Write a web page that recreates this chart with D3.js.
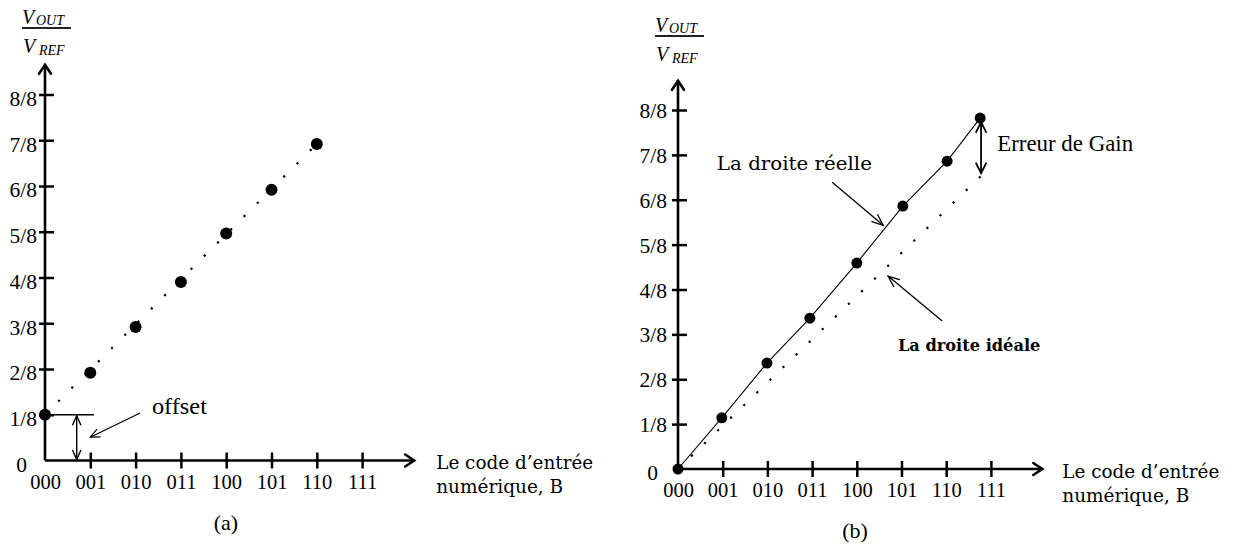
<!DOCTYPE html>
<html><head><meta charset="utf-8">
<script src="https://cdn.jsdelivr.net/npm/d3@7"></script>
<style>html,body{margin:0;padding:0;background:#fff;}svg{display:block;}</style>
</head><body>
<script>
// ---- data ----
const codes = ["000","001","010","011","100","101","110","111"];
const yTickLabels = ["0","1/8","2/8","3/8","4/8","5/8","6/8","7/8","8/8"];
// panel (a): offset error (values in eighths of V_REF)
const offsetCodes = [0,1,2,3,4,5,6];
const offsetVals  = [1,1.92,2.92,3.9,4.96,5.92,6.92];
// panel (b): gain error
const gainCodes = [0,0.98,1.99,2.95,4.0,5.03,6.02,6.76];
const gainVals  = [0,1.14,2.36,3.36,4.59,5.86,6.86,7.82];
const idealCodes = [0,6.8];
const idealVals  = [0,6.55];
const xTitle = ["Le code d\u2019entr\u00e9e","num\u00e9rique, B"];

const svg = d3.select("body").append("svg").attr("width",1234).attr("height",544);
svg.append("rect").attr("width",1234).attr("height",544).attr("fill","#fff");
const serif = "'Liberation Serif','Times New Roman',serif";
const slab = "'DejaVu Serif',serif";

function chevron(g, tx, ty, ang, len, half, sw){
  const c=Math.cos(ang), s=Math.sin(ang);
  const p1=[tx-len*c + half*s, ty-len*s - half*c];
  const p2=[tx-len*c - half*s, ty-len*s + half*c];
  g.append("path").attr("d",`M${p1[0]},${p1[1]}L${tx},${ty}L${p2[0]},${p2[1]}`)
   .attr("fill","none").attr("stroke","#000").attr("stroke-width",sw)
   .attr("stroke-linejoin","miter").attr("stroke-linecap","round");
}
function arrowLine(g,x1,y1,x2,y2,sw,len,half){
  g.append("line").attr("x1",x1).attr("y1",y1).attr("x2",x2).attr("y2",y2)
   .attr("stroke","#000").attr("stroke-width",sw);
  chevron(g,x2,y2,Math.atan2(y2-y1,x2-x1),len,half,sw);
}
function label(g,xx,yy,txt,fam,fs,len,weight){
  const t=g.append("text").attr("x",xx).attr("y",yy).attr("font-family",fam).attr("font-size",fs)
    .attr("fill","#000").text(txt);
  if(weight) t.attr("font-weight",weight);
  if(len) t.attr("textLength",len).attr("lengthAdjust","spacingAndGlyphs");
  return t;
}

function panel(cfg){
  const g = svg.append("g");
  const x = d3.scaleLinear([0,8],cfg.xr);
  const y = d3.scaleLinear([0,8],cfg.yr);
  const x0=x(0), y0=y(0);
  // x axis
  const xa = g.append("g").attr("transform",`translate(0,${y0})`)
    .call(d3.axisBottom(x).tickValues(d3.range(8)).tickFormat(i=>codes[i]).tickSizeInner(8).tickSizeOuter(0).tickPadding(0));
  xa.select(".domain").remove();
  xa.selectAll(".tick line").attr("y1",-8).attr("y2",8).attr("stroke-width",2.5);
  xa.selectAll(".tick").filter(d=>d===0).select("line").remove();
  xa.selectAll(".tick text").attr("y",21).attr("dy","0.35em")
    .attr("font-family",serif).attr("font-size",20.5).attr("fill","#000");
  // y axis
  const ya = g.append("g").attr("transform",`translate(${x0},0)`)
    .call(d3.axisLeft(y).tickValues(d3.range(9)).tickFormat(k=>yTickLabels[k]).tickSizeInner(6).tickSizeOuter(0).tickPadding(0));
  ya.select(".domain").remove();
  ya.selectAll(".tick line").attr("x1",-6).attr("x2",9).attr("stroke-width",2.5);
  ya.selectAll(".tick").filter(d=>d===0).select("line").remove();
  ya.selectAll(".tick text").attr("x",-cfg.labGap).attr("dy",cfg.labDy)
    .attr("font-family",serif).attr("font-size",21.5).attr("fill","#000");
  ya.selectAll(".tick text").filter(d=>d===0).attr("x",-cfg.zeroGap).attr("dy","0.5em");
  // axis lines with arrows
  const xEnd = x(8.15), yEnd = y(8.65);
  g.append("line").attr("x1",x0).attr("y1",y0).attr("x2",xEnd).attr("y2",y0).attr("stroke","#000").attr("stroke-width",2.6);
  g.append("line").attr("x1",x0).attr("y1",y0).attr("x2",x0).attr("y2",yEnd).attr("stroke","#000").attr("stroke-width",2.6);
  chevron(g,xEnd,y0,0,9,6,2.6);
  chevron(g,x0,yEnd,-Math.PI/2,9,6,2.6);
  // axis title (x)
  label(g,xEnd+cfg.titleGap,y0+8.5,xTitle[0],slab,18.5,157);
  label(g,xEnd+cfg.titleGap,y0+32.5,xTitle[1],slab,18.5,127);
  // y title V_OUT / V_REF
  const fy = cfg.fracY, fx = x0;
  g.append("line").attr("x1",fx-23).attr("x2",fx+26).attr("y1",fy).attr("y2",fy).attr("stroke","#222").attr("stroke-width",1.8);
  const it = (xx,yy,s,fs)=>g.append("text").attr("x",xx).attr("y",yy).attr("font-family",serif)
      .attr("font-style","italic").attr("font-size",fs).attr("fill","#000").text(s);
  it(fx-23,fy-4,"V",20); it(fx-9,fy-3,"OUT",14);
  it(fx-22,fy+25,"V",20); it(fx-6,fy+27,"REF",14);
  // caption
  g.append("text").attr("x",cfg.capX).attr("y",y0+69).attr("text-anchor","middle")
    .attr("font-family",serif).attr("font-size",22).attr("fill","#000").text(cfg.caption);
  return {g,x,y};
}

// ---------- panel (a) ----------
{
  const {g,x,y} = panel({xr:[45,407.4], yr:[460.5,94.5], labGap:8, labDy:"0.5em", zeroGap:18, fracY:28, titleGap:22, capX:226, caption:"(a)"});
  const line = d3.line().x(d=>x(d[0])).y(d=>y(d[1]));
  const ends = [[offsetCodes[0],offsetVals[0]],[offsetCodes[6],offsetVals[6]]];
  g.append("path").attr("d",line(ends)).attr("fill","none").attr("stroke","#000")
    .attr("stroke-width",2.2).attr("stroke-dasharray","2.2,16.5");
  g.selectAll("circle.p").data(offsetCodes).join("circle")
    .attr("cx",(d)=>x(d)).attr("cy",(d,i)=>y(offsetVals[i])).attr("r",6).attr("fill","#000");
  // offset annotation
  g.append("line").attr("x1",x(0)).attr("x2",x(1.08)).attr("y1",y(offsetVals[0])).attr("y2",y(offsetVals[0]))
    .attr("stroke","#000").attr("stroke-width",1.4);
  const ax = x(0.7), ya1 = y(offsetVals[0])+1, ya2 = y(0)-1;
  g.append("line").attr("x1",ax).attr("x2",ax).attr("y1",ya1).attr("y2",ya2).attr("stroke","#000").attr("stroke-width",1.4);
  chevron(g,ax,ya1,-Math.PI/2,9,4,1.4);
  chevron(g,ax,ya2,Math.PI/2,9,4,1.4);
  arrowLine(g,x(2.1),y(1.04),x(1.0),y(0.51),1.2,9,4);
  label(g,x(2.36),y(1.02),"offset",serif,24,55);
}

// ---------- panel (b) ----------
{
  const {g,x,y} = panel({xr:[678,1035.6], yr:[469,110], labGap:11, labDy:"0.35em", zeroGap:20, fracY:36, titleGap:20, capX:855, caption:"(b)"});
  const line = d3.line().x(d=>x(d[0])).y(d=>y(d[1]));
  // ideal (dotted)
  g.append("path").attr("d",line(idealCodes.map((c,i)=>[c,idealVals[i]]))).attr("fill","none")
    .attr("stroke","#000").attr("stroke-width",2.2).attr("stroke-dasharray","2.2,16");
  // actual (solid)
  g.append("path").attr("d",line(gainCodes.map((c,i)=>[c,gainVals[i]]))).attr("fill","none")
    .attr("stroke","#000").attr("stroke-width",1.1);
  g.selectAll("circle.p").data(gainCodes).join("circle")
    .attr("cx",d=>x(d)).attr("cy",(d,i)=>y(gainVals[i])).attr("r",5.5).attr("fill","#000");
  // gain error double arrow
  const gx = x(6.78), g1 = y(7.73), g2 = y(6.59);
  g.append("line").attr("x1",gx).attr("x2",gx).attr("y1",g1).attr("y2",g2).attr("stroke","#000").attr("stroke-width",1.8);
  chevron(g,gx,g1,-Math.PI/2,10,5,1.8);
  chevron(g,gx,g2,Math.PI/2,10,5,1.8);
  label(g,x(7.14),y(7.08),"Erreur de Gain",serif,23,136);
  // labels with pointers
  arrowLine(g,x(3.45),y(6.39),x(4.59),y(5.43),1.3,11,4.5);
  label(g,x(0.87),y(6.66),"La droite r\u00e9elle",slab,19,155);
  arrowLine(g,x(5.91),y(3.30),x(4.70),y(4.30),1.3,11,4.5);
  label(g,x(4.92),y(2.63),"La droite id\u00e9ale",slab,16.2,null,"bold");
}
</script>
</body></html>
